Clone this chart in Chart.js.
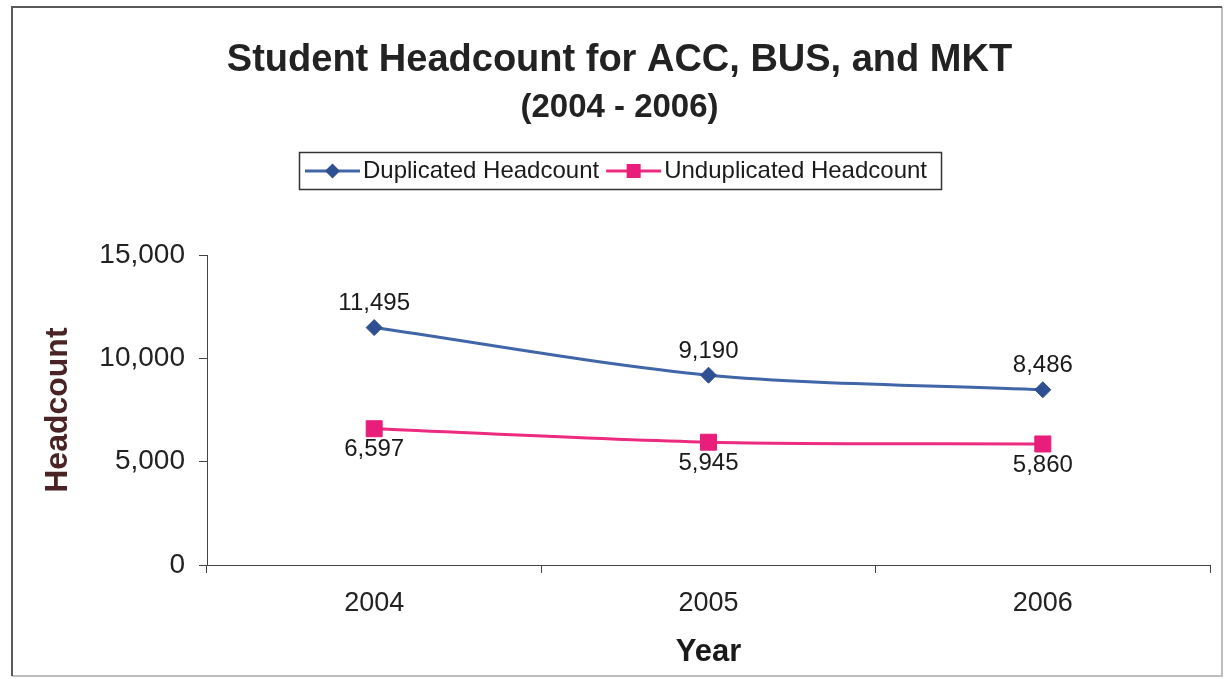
<!DOCTYPE html>
<html><head><meta charset="utf-8">
<script src="https://cdn.jsdelivr.net/npm/chart.js@4"></script>
<style>html,body{margin:0;padding:0;background:#fff;overflow:hidden}</style>
</head><body>
<canvas id="c" width="1225" height="679" style="display:block"></canvas>
<script>
const years = ['2004', '2005', '2006'];
const duplicatedHeadcount = [11495, 9190, 8486];
const unduplicatedHeadcount = [6597, 5945, 5860];
const yTickValues = [0, 5000, 10000, 15000];
const seriesNames = ['Duplicated Headcount', 'Unduplicated Headcount'];

const FONT = '"Liberation Sans", Arial, sans-serif';
const fmt = v => v.toLocaleString('en-US');

const framePlugin = {
  id: 'frame',
  beforeDraw(chart) {
    const ctx = chart.ctx;
    ctx.save();
    ctx.fillStyle = '#fff';
    ctx.fillRect(0, 0, chart.width, chart.height);
    ctx.lineWidth = 2;
    ctx.strokeStyle = '#bdbdbd';
    ctx.beginPath();
    ctx.moveTo(1222, 7); ctx.lineTo(1222, 676); ctx.lineTo(12, 676);
    ctx.stroke();
    ctx.strokeStyle = '#5a5a5a';
    ctx.beginPath();
    ctx.moveTo(12, 676); ctx.lineTo(12, 7); ctx.lineTo(1222, 7);
    ctx.stroke();
    ctx.restore();
  }
};

const valueLabelPlugin = {
  id: 'valueLabels',
  afterDatasetsDraw(chart) {
    const ctx = chart.ctx;
    ctx.save();
    ctx.font = '24px ' + FONT;
    ctx.fillStyle = '#1a1a1a';
    ctx.textAlign = 'center';
    ctx.textBaseline = 'middle';
    chart.data.datasets.forEach((ds, di) => {
      const meta = chart.getDatasetMeta(di);
      meta.data.forEach((pt, i) => {
        ctx.fillText(fmt(ds.data[i]), pt.x, pt.y + ds.labelOffset);
      });
    });
    ctx.restore();
  }
};

const legendPlugin = {
  id: 'boxLegend',
  afterDraw(chart) {
    const ctx = chart.ctx;
    ctx.save();
    ctx.font = '24px ' + FONT;
    const ds = chart.data.datasets;
    const lineW = 55, padL = 6, gapT = 3, gapItem = 7, padR = 14;
    const widths = ds.map(d => ctx.measureText(d.label).width);
    const total = padL + widths.reduce((a, w) => a + lineW + gapT + w, 0) + gapItem * (ds.length - 1) + padR;
    const cx = 620, top = 152, h = 37;
    const left = Math.round(cx - total / 2);
    ctx.fillStyle = '#fff';
    ctx.fillRect(left, top, total, h);
    ctx.strokeStyle = '#333';
    ctx.lineWidth = 1.5;
    ctx.strokeRect(left + 0.5, top + 0.5, total, h);
    let x = left + padL;
    const cy = top + h / 2 + 0.5;
    ds.forEach((d, i) => {
      ctx.strokeStyle = d.borderColor;
      ctx.lineWidth = 3;
      ctx.beginPath(); ctx.moveTo(x, cy); ctx.lineTo(x + lineW, cy); ctx.stroke();
      ctx.fillStyle = d.pointBackgroundColor;
      const mx = x + lineW / 2;
      if (d.pointStyle === 'rectRot') {
        const r = 7.5;
        ctx.beginPath();
        ctx.moveTo(mx, cy - r); ctx.lineTo(mx + r, cy); ctx.lineTo(mx, cy + r); ctx.lineTo(mx - r, cy);
        ctx.closePath(); ctx.fill();
      } else {
        ctx.fillRect(mx - 7, cy - 7, 14, 14);
      }
      x += lineW + gapT;
      ctx.fillStyle = '#1a1a1a';
      ctx.textAlign = 'left';
      ctx.textBaseline = 'middle';
      ctx.fillText(d.label, x, cy);
      x += widths[i] + gapItem;
    });
    ctx.restore();
  }
};

new Chart(document.getElementById('c'), {
  type: 'line',
  data: {
    labels: years,
    datasets: [
      {
        label: seriesNames[0],
        data: duplicatedHeadcount,
        borderColor: '#4066a8',
        backgroundColor: '#2e5092',
        pointBackgroundColor: '#2e5092',
        pointBorderColor: '#2e5092',
        pointStyle: 'rectRot',
        pointRadius: 8,
        pointBorderWidth: 1,
        borderWidth: 3,
        tension: 0.3,
        labelOffset: -24
      },
      {
        label: seriesNames[1],
        data: unduplicatedHeadcount,
        borderColor: '#ec2a80',
        backgroundColor: '#e91e7a',
        pointBackgroundColor: '#e91e7a',
        pointBorderColor: '#e91e7a',
        pointStyle: 'rect',
        pointRadius: 11.3,
        pointBorderWidth: 1,
        borderWidth: 3,
        tension: 0.3,
        labelOffset: 21
      }
    ]
  },
  options: {
    responsive: false,
    animation: false,
    devicePixelRatio: 1,
    layout: { padding: { left: 29, right: 15, top: 0, bottom: 0 } },
    plugins: {
      legend: { display: false },
      tooltip: { enabled: false },
      title: {
        display: true,
        text: 'Student Headcount for ACC, BUS, and MKT',
        color: '#222',
        font: { family: FONT, size: 38, weight: 'bold' },
        padding: { top: 38, bottom: 0 }
      },
      subtitle: {
        display: true,
        text: '(2004 - 2006)',
        color: '#222',
        font: { family: FONT, size: 33, weight: 'bold' },
        padding: { top: 5, bottom: 127 }
      }
    },
    scales: {
      x: {
        type: 'category',
        offset: true,
        grid: { display: true, offset: true, drawOnChartArea: false, drawTicks: true, tickLength: 8, color: '#444' },
        border: { display: true, color: '#444', width: 1 },
        ticks: { color: '#222', font: { family: FONT, size: 27 }, padding: 14, maxRotation: 0 },
        title: {
          display: true, text: 'Year', color: '#1a1a1a',
          font: { family: FONT, size: 31, weight: 'bold' },
          padding: { top: 0, bottom: 8 }
        },
        afterFit(scale) { scale.height = 114; }
      },
      y: {
        min: 0, max: 15000,
        afterBuildTicks(scale) { scale.ticks = yTickValues.map(v => ({ value: v })); },
        grid: { display: true, drawOnChartArea: false, drawTicks: true, tickLength: 8, color: '#444' },
        border: { display: true, color: '#444', width: 1 },
        ticks: { color: '#222', font: { family: FONT, size: 28 }, padding: 14, callback: v => fmt(v) },
        title: {
          display: true, text: 'Headcount', color: '#4a2424',
          font: { family: FONT, size: 32, weight: 'bold' },
          padding: { top: 10, bottom: 0 }
        },
        afterFit(scale) { scale.width = 178; }
      }
    }
  },
  plugins: [framePlugin, valueLabelPlugin, legendPlugin]
});
</script>
</body></html>
